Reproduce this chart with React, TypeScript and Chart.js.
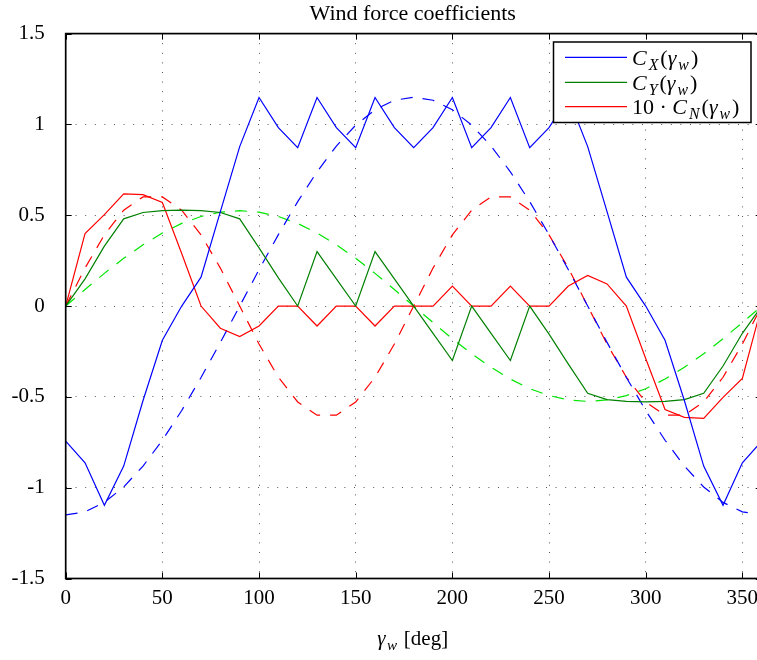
import React, { useEffect, useRef } from 'react';
import { Chart, registerables } from 'chart.js';

Chart.register(...registerables);

// ---- data ----
const angles = [0, 10, 20, 30, 40, 50, 60, 70, 80, 90, 100, 110, 120, 130, 140, 150, 160, 170, 180,
  190, 200, 210, 220, 230, 240, 250, 260, 270, 280, 290, 300, 310, 320, 330, 340, 350, 360];

const cxSolid = [-0.744, -0.863, -1.097, -0.881, -0.52, -0.188, 0.0, 0.159, 0.52, 0.878, 1.148, 0.982, 0.872,
  1.148, 0.982, 0.872, 1.148, 0.982, 0.872, 0.982, 1.148, 0.872, 0.982, 1.148, 0.872, 0.982, 1.148, 0.878,
  0.52, 0.159, 0.0, -0.188, -0.52, -0.881, -1.097, -0.863, -0.744];

const cySolid = [0, 0.15, 0.33, 0.48, 0.515, 0.525, 0.528, 0.525, 0.515, 0.48, 0.32, 0.155, 0, 0.3, 0.15, 0,
  0.3, 0.15, 0, -0.15, -0.3, 0, -0.15, -0.3, 0, -0.155, -0.32, -0.48, -0.515, -0.525, -0.528, -0.525, -0.515,
  -0.48, -0.33, -0.15, 0];

const cnSolid = [0, 0.399, 0.503, 0.618, 0.613, 0.57, 0.289, 0, -0.122, -0.168, -0.11, 0, 0, -0.11, 0, 0,
  -0.11, 0, 0, 0, 0.11, 0, 0, 0.11, 0, 0, 0.11, 0.168, 0.122, 0, -0.289, -0.57, -0.613, -0.618, -0.503,
  -0.399, 0];

const cxDashed = [-1.15, -1.133, -1.081, -0.996, -0.881, -0.739, -0.575, -0.393, -0.2, 0, 0.2, 0.393, 0.575,
  0.739, 0.881, 0.996, 1.081, 1.133, 1.15, 1.133, 1.081, 0.996, 0.881, 0.739, 0.575, 0.393, 0.2, 0, -0.2,
  -0.393, -0.575, -0.739, -0.881, -0.996, -1.081, -1.133, -1.15];

const cyDashed = [0, 0.091, 0.18, 0.263, 0.337, 0.402, 0.455, 0.493, 0.517, 0.525, 0.517, 0.493, 0.455, 0.402,
  0.337, 0.263, 0.18, 0.091, 0, -0.091, -0.18, -0.263, -0.337, -0.402, -0.455, -0.493, -0.517, -0.525, -0.517,
  -0.493, -0.455, -0.402, -0.337, -0.263, -0.18, -0.091, 0];

const cnDashed = [0, 0.209, 0.392, 0.528, 0.601, 0.601, 0.528, 0.392, 0.209, 0, -0.209, -0.392, -0.528, -0.601,
  -0.601, -0.528, -0.392, -0.209, 0, 0.209, 0.392, 0.528, 0.601, 0.601, 0.528, 0.392, 0.209, 0, -0.209, -0.392,
  -0.528, -0.601, -0.601, -0.528, -0.392, -0.209, 0];

const xTicks = [0, 50, 100, 150, 200, 250, 300, 350];
const yTicks = [-1.5, -1, -0.5, 0, 0.5, 1, 1.5];

const titleText = 'Wind force coefficients';

type Run = { t: string; it?: boolean; sub?: boolean };

const xTitleRuns: Run[] = [{ t: 'γ', it: true }, { t: 'w', it: true, sub: true }, { t: ' [deg]' }];

const legendItems: { color: string; runs: Run[] }[] = [
  { color: '#0000ff', runs: [{ t: 'C', it: true }, { t: 'X', it: true, sub: true }, { t: '(' }, { t: 'γ', it: true }, { t: 'w', it: true, sub: true }, { t: ')' }] },
  { color: '#008000', runs: [{ t: 'C', it: true }, { t: 'Y', it: true, sub: true }, { t: '(' }, { t: 'γ', it: true }, { t: 'w', it: true, sub: true }, { t: ')' }] },
  { color: '#ff0000', runs: [{ t: '10 · ' }, { t: 'C', it: true }, { t: 'N', it: true, sub: true }, { t: '(' }, { t: 'γ', it: true }, { t: 'w', it: true, sub: true }, { t: ')' }] },
];

const FONT = '"Liberation Serif", "Times New Roman", serif';

function pts(vals: number[]) {
  return angles.map((a, i) => ({ x: a, y: vals[i] }));
}

function drawRuns(ctx: CanvasRenderingContext2D, runs: Run[], x: number, y: number, size: number, align: 'left' | 'center', gap: number) {
  const sub = size * 0.72;
  const fontOf = (r: Run) => `${r.it ? 'italic ' : ''}${r.sub ? sub : size}px ${FONT}`;
  const widths = runs.map((r) => {
    ctx.font = fontOf(r);
    return ctx.measureText(r.t).width + (r.it ? gap : 0);
  });
  const total = widths.reduce((s, w) => s + w, 0);
  let cx = align === 'center' ? x - total / 2 : x;
  ctx.textAlign = 'left';
  ctx.textBaseline = 'alphabetic';
  runs.forEach((r, i) => {
    ctx.font = fontOf(r);
    ctx.fillText(r.t, cx, r.sub ? y + size * 0.22 : y);
    cx += widths[i];
  });
}

const decor = {
  id: 'decor',
  afterDraw(chart: any) {
    const { ctx, chartArea: a, scales } = chart;
    ctx.save();
    ctx.strokeStyle = '#000';
    ctx.lineWidth = 1;
    ctx.setLineDash([]);
    const seg = (x1: number, y1: number, x2: number, y2: number) => {
      ctx.beginPath();
      ctx.moveTo(x1, y1);
      ctx.lineTo(x2, y2);
      ctx.stroke();
    };
    xTicks.forEach((v) => {
      const px = Math.round(scales.x.getPixelForValue(v)) + 0.5;
      seg(px, a.bottom, px, a.bottom - 6);
      seg(px, a.top, px, a.top + 6);
    });
    yTicks.forEach((v) => {
      const py = Math.round(scales.y.getPixelForValue(v)) + 0.5;
      seg(a.left, py, a.left + 6, py);
      seg(a.right, py, a.right - 6, py);
    });
    ctx.lineWidth = 1.7;
    ctx.strokeRect(a.left, a.top, a.right - a.left, a.bottom - a.top);

    // title
    ctx.fillStyle = '#000';
    ctx.font = `22px ${FONT}`;
    ctx.textAlign = 'center';
    ctx.textBaseline = 'alphabetic';
    ctx.fillText(titleText, (a.left + a.right) / 2 - 1, 20);

    // x axis title
    drawRuns(ctx, xTitleRuns, (a.left + a.right) / 2 - 1, 645, 21, 'center', 1.5);

    // legend
    const bx = 553.5, by = 42, bw = 197.5, bh = 80.5;
    ctx.fillStyle = '#fff';
    ctx.fillRect(bx, by, bw, bh);
    ctx.lineWidth = 1.5;
    ctx.strokeStyle = '#000';
    ctx.strokeRect(bx, by, bw, bh);
    const rows = [57.3, 82.3, 106.7];
    legendItems.forEach((it, i) => {
      ctx.strokeStyle = it.color;
      ctx.lineWidth = 1.3;
      seg(565, rows[i], 627, rows[i]);
      ctx.fillStyle = '#000';
      drawRuns(ctx, it.runs, 632, rows[i] + 7.7, 22, 'left', 2);
    });
    ctx.restore();
  },
};

export default function App() {
  const ref = useRef<HTMLCanvasElement>(null);
  useEffect(() => {
    const canvas = ref.current!;
    const tickFont = { family: FONT, size: 21 };
    const chart = new Chart(canvas, {
      type: 'line',
      data: {
        datasets: [
          { data: pts(cxSolid), borderColor: '#0000ff', borderWidth: 1.2 },
          { data: pts(cySolid), borderColor: '#008000', borderWidth: 1.2 },
          { data: pts(cnSolid), borderColor: '#ff0000', borderWidth: 1.2 },
          { data: pts(cxDashed), borderColor: '#0000ff', borderWidth: 1.2, borderDash: [12, 10] },
          { data: pts(cyDashed), borderColor: '#00e600', borderWidth: 1.2, borderDash: [12, 10] },
          { data: pts(cnDashed), borderColor: '#ff0000', borderWidth: 1.2, borderDash: [12, 10] },
        ],
      },
      options: {
        animation: false,
        responsive: false,
        devicePixelRatio: 1,
        layout: { padding: { left: 0, right: 8.3, top: 31.5, bottom: 0 } },
        elements: { point: { radius: 0 }, line: { tension: 0, fill: false } },
        plugins: { legend: { display: false }, title: { display: false }, tooltip: { enabled: false } },
        scales: {
          x: {
            type: 'linear',
            min: 0,
            max: 360,
            afterBuildTicks: (s: any) => { s.ticks = xTicks.map((v) => ({ value: v })); },
            afterFit: (s: any) => { s.height = 81.5; },
            grid: { color: '#555', lineWidth: 1, drawTicks: false },
            border: { display: false, dash: [1, 8.6] },
            ticks: { padding: 7, font: tickFont, color: '#000', maxRotation: 0, autoSkip: false, callback: (v: any) => String(v) },
          },
          y: {
            type: 'linear',
            min: -1.5,
            max: 1.5,
            afterBuildTicks: (s: any) => { s.ticks = yTicks.map((v) => ({ value: v })); },
            afterFit: (s: any) => { s.width = 65.7; },
            grid: { color: '#555', lineWidth: 1, drawTicks: false },
            border: { display: false, dash: [1, 8.6] },
            ticks: { padding: 21, font: tickFont, color: '#000', autoSkip: false, callback: (v: any) => String(v) },
          },
        },
      },
      plugins: [decor],
    } as any);
    return () => chart.destroy();
  }, []);
  return (
    <div style={{ position: 'fixed', left: 0, top: 0, width: 757, height: 660, overflow: 'hidden', background: '#fff' }}>
      <canvas ref={ref} width={770} height={660} style={{ display: 'block', width: 770, height: 660 }} />
    </div>
  );
}
